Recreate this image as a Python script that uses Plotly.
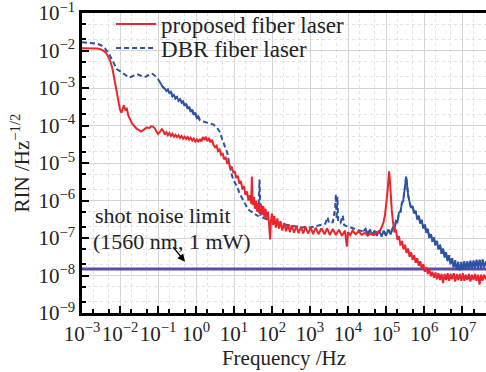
import plotly.graph_objects as go

# ---- data (log10 of frequency in Hz, log10 of RIN in Hz^-1/2) ----
red_points = [(-3.00,-1.94),(-2.80,-1.94),(-2.60,-1.95),(-2.50,-1.97),(-2.40,-2.03),(-2.32,-2.14),(-2.25,-2.30),(-2.20,-2.48),(-2.15,-2.75),(-2.10,-3.10),(-2.05,-3.35),(-2.00,-3.58),(-1.96,-3.66),(-1.93,-3.52),(-1.90,-3.46),(-1.86,-3.58),(-1.82,-3.55),(-1.78,-3.74),(-1.74,-3.84),(-1.68,-3.95),(-1.62,-4.02),(-1.56,-4.09),(-1.50,-4.12),(-1.45,-4.16),(-1.40,-4.13),(-1.35,-4.10),(-1.29,-4.05),(-1.23,-4.07),(-1.18,-4.02),(-1.13,-4.03),(-1.08,-4.08),(-1.04,-4.16),(-1.00,-4.23),(-0.95,-4.17),(-0.90,-4.10),(-0.86,-4.15),(-0.82,-4.24),(-0.78,-4.18),(-0.74,-4.26),(-0.70,-4.20),(-0.66,-4.28),(-0.62,-4.22),(-0.58,-4.30),(-0.54,-4.25),(-0.50,-4.31),(-0.46,-4.26),(-0.42,-4.33),(-0.38,-4.28),(-0.34,-4.35),(-0.30,-4.30),(-0.26,-4.36),(-0.22,-4.31),(-0.18,-4.38),(-0.14,-4.33),(-0.10,-4.40),(-0.06,-4.35),(-0.02,-4.43),(0.02,-4.37),(0.06,-4.44),(0.10,-4.36),(0.14,-4.43),(0.18,-4.31),(0.22,-4.39),(0.26,-4.30),(0.30,-4.42),(0.34,-4.33),(0.38,-4.45),(0.42,-4.38),(0.46,-4.52),(0.50,-4.58),(0.54,-4.54),(0.58,-4.68),(0.62,-4.64),(0.66,-4.78),(0.70,-4.74),(0.74,-4.90),(0.78,-4.86),(0.82,-5.00),(0.86,-4.96),(0.90,-5.14),(0.94,-5.10),(0.98,-5.26),(1.02,-5.22),(1.06,-5.40),(1.10,-5.34),(1.14,-5.55),(1.18,-5.48),(1.22,-5.70),(1.26,-5.62),(1.30,-5.85),(1.34,-5.76),(1.38,-6.00),(1.42,-5.86),(1.45,-6.08),(1.47,-5.36),(1.49,-6.12),(1.52,-5.90),(1.55,-6.22),(1.58,-6.00),(1.61,-6.30),(1.64,-6.08),(1.67,-6.35),(1.71,-6.10),(1.74,-6.38),(1.77,-6.15),(1.80,-6.45),(1.83,-6.22),(1.86,-6.52),(1.89,-6.30),(1.92,-6.60),(1.95,-7.04),(1.97,-6.55),(2.00,-6.35),(2.03,-6.65),(2.06,-6.42),(2.10,-6.72),(2.14,-6.48),(2.18,-6.75),(2.22,-6.55),(2.27,-6.80),(2.32,-6.60),(2.37,-6.82),(2.42,-6.64),(2.47,-6.84),(2.52,-6.66),(2.58,-6.86),(2.64,-6.68),(2.70,-6.87),(2.76,-6.70),(2.82,-6.88),(2.88,-6.70),(2.95,-6.88),(3.02,-6.72),(3.08,-6.90),(3.15,-6.72),(3.22,-6.90),(3.30,-6.74),(3.38,-6.90),(3.45,-6.74),(3.52,-6.92),(3.60,-6.76),(3.68,-6.92),(3.76,-6.78),(3.84,-6.94),(3.92,-6.80),(3.97,-7.23),(4.00,-6.84),(4.06,-6.92),(4.12,-6.80),(4.20,-6.90),(4.28,-6.82),(4.36,-6.92),(4.44,-6.86),(4.52,-6.94),(4.60,-6.88),(4.68,-6.92),(4.76,-6.84),(4.82,-6.86),(4.88,-6.72),(4.93,-6.60),(4.97,-6.40),(5.01,-6.10),(5.04,-5.75),(5.07,-5.35),(5.08,-5.22),(5.10,-5.45),(5.12,-5.85),(5.15,-6.25),(5.18,-6.55),(5.22,-6.85),(5.26,-6.78),(5.30,-7.05),(5.34,-6.95),(5.38,-7.20),(5.42,-7.08),(5.46,-7.30),(5.50,-7.18),(5.54,-7.40),(5.58,-7.28),(5.62,-7.50),(5.66,-7.38),(5.70,-7.58),(5.74,-7.46),(5.78,-7.66),(5.82,-7.54),(5.86,-7.74),(5.90,-7.62),(5.94,-7.82),(5.98,-7.70),(6.02,-7.90),(6.06,-7.78),(6.10,-7.96),(6.14,-7.84),(6.18,-8.02),(6.22,-7.90),(6.26,-8.06),(6.30,-7.92),(6.34,-8.10),(6.38,-7.94),(6.42,-8.12),(6.46,-7.96),(6.50,-8.20),(6.54,-7.96),(6.58,-8.12),(6.62,-7.94),(6.66,-8.14),(6.70,-7.96),(6.74,-8.10),(6.78,-7.94),(6.82,-8.16),(6.86,-7.96),(6.90,-8.12),(6.94,-7.96),(6.98,-8.14),(7.02,-7.94),(7.06,-8.14),(7.10,-7.98),(7.14,-8.12),(7.18,-7.96),(7.22,-8.16),(7.26,-7.98),(7.30,-8.12),(7.34,-7.96),(7.38,-8.14),(7.42,-7.98),(7.46,-8.24),(7.50,-7.98),(7.54,-8.14),(7.58,-7.98),(7.63,-8.10)]

blue_points = [(-3.00,-1.78),(-2.80,-1.79),(-2.60,-1.82),(-2.50,-1.86),(-2.40,-1.94),(-2.30,-2.07),(-2.22,-2.22),(-2.15,-2.38),(-2.08,-2.50),(-2.00,-2.55),(-1.92,-2.60),(-1.84,-2.66),(-1.76,-2.72),(-1.70,-2.70),(-1.62,-2.66),(-1.55,-2.63),(-1.48,-2.66),(-1.40,-2.70),(-1.32,-2.70),(-1.26,-2.66),(-1.20,-2.62),(-1.13,-2.63),(-1.06,-2.70),(-1.00,-2.76),(-0.94,-2.86),(-0.87,-2.98),(-0.82,-3.02),(-0.78,-3.08),(-0.74,-3.04),(-0.70,-3.14),(-0.66,-3.10),(-0.62,-3.22),(-0.58,-3.18),(-0.54,-3.28),(-0.50,-3.24),(-0.46,-3.34),(-0.42,-3.30),(-0.38,-3.40),(-0.34,-3.36),(-0.30,-3.48),(-0.26,-3.42),(-0.22,-3.56),(-0.18,-3.50),(-0.14,-3.64),(-0.10,-3.58),(-0.06,-3.72),(-0.02,-3.66),(0.02,-3.80),(0.06,-3.76),(0.10,-3.86),(0.18,-3.89),(0.30,-3.92),(0.45,-3.97),(0.55,-4.05),(0.63,-4.18),(0.70,-4.40),(0.76,-4.58),(0.82,-4.72),(0.89,-5.10),(0.95,-5.35),(1.02,-5.52),(1.08,-5.62),(1.14,-5.80),(1.19,-5.90),(1.24,-5.97),(1.30,-6.12),(1.35,-6.20),(1.40,-6.26),(1.46,-6.30),(1.52,-6.36),(1.58,-6.40),(1.64,-6.42),(1.67,-5.44),(1.70,-6.44),(1.76,-6.46),(1.82,-6.48),(1.90,-6.52),(2.00,-6.56),(2.10,-6.60),(2.20,-6.62),(2.30,-6.64),(2.40,-6.66),(2.50,-6.68),(2.60,-6.70),(2.70,-6.70),(2.80,-6.72),(2.90,-6.70),(3.00,-6.72),(3.10,-6.70),(3.20,-6.68),(3.30,-6.66),(3.40,-6.62),(3.46,-6.45),(3.50,-6.60),(3.60,-6.58),(3.66,-6.20),(3.68,-5.84),(3.70,-6.50),(3.72,-5.90),(3.74,-6.55),(3.80,-6.60),(3.86,-6.40),(3.90,-6.66),(4.00,-6.70),(4.10,-6.74),(4.20,-6.78),(4.30,-6.80),(4.40,-6.82),(4.46,-6.76),(4.52,-6.90),(4.58,-6.78),(4.64,-6.92),(4.70,-6.80),(4.76,-6.94),(4.82,-6.80),(4.88,-6.96),(4.94,-6.80),(5.00,-6.94),(5.06,-6.78),(5.12,-6.90),(5.18,-6.70),(5.22,-6.78),(5.26,-6.55),(5.30,-6.58),(5.34,-6.32),(5.38,-6.30),(5.42,-6.05),(5.45,-6.02),(5.49,-5.68),(5.52,-5.42),(5.53,-5.36),(5.55,-5.55),(5.58,-5.85),(5.62,-6.05),(5.66,-6.20),(5.70,-6.15),(5.74,-6.35),(5.78,-6.28),(5.82,-6.50),(5.86,-6.40),(5.90,-6.62),(5.94,-6.52),(5.98,-6.74),(6.02,-6.64),(6.06,-6.86),(6.10,-6.76),(6.14,-7.00),(6.18,-6.90),(6.22,-7.10),(6.26,-6.98),(6.30,-7.20),(6.34,-7.08),(6.38,-7.30),(6.42,-7.18),(6.46,-7.42),(6.50,-7.28),(6.54,-7.52),(6.58,-7.38),(6.62,-7.62),(6.66,-7.46),(6.70,-7.70),(6.74,-7.54),(6.78,-7.78),(6.82,-7.60),(6.86,-7.84),(6.90,-7.64),(6.94,-7.86),(6.98,-7.64),(7.02,-7.84),(7.06,-7.62),(7.10,-7.84),(7.14,-7.62),(7.18,-7.82),(7.22,-7.60),(7.26,-7.82),(7.30,-7.60),(7.34,-7.80),(7.38,-7.58),(7.42,-7.80),(7.46,-7.58),(7.50,-7.80),(7.54,-7.58),(7.58,-7.78),(7.63,-7.62)]

# frequency spans (log10 Hz) where the dense DBR noise makes its dashed trace look solid
blue_dense_spans = [(-0.95, 0.12), (4.4, 7.63)]

shot_noise_level = 1.5e-8
x_tick_exponents = [-3, -2, -1, 0, 1, 2, 3, 4, 5, 6, 7]
y_tick_exponents = [-9, -8, -7, -6, -5, -4, -3, -2, -1]
series_names = ["proposed fiber laser", "DBR fiber laser"]

def to_xy(points):
    xs = [10 ** p[0] for p in points]
    ys = [10 ** p[1] for p in points]
    return xs, ys

rx, ry = to_xy(red_points)
bx, by = to_xy(blue_points)

# solid overlay of the dense parts of the DBR trace
sx, sy = [], []
for lo, hi in blue_dense_spans:
    seg = [p for p in blue_points if lo <= p[0] <= hi]
    xs, ys = to_xy(seg)
    sx += xs + [None]
    sy += ys + [None]

FONT = "Liberation Serif"
TXT = "#222222"
RED = "#e8262b"
BLUE = "#2c52a3"

def sci(e):
    return "10<sup>%s</sup>" % ("\u2212%d" % -e if e < 0 else "%d" % e)

fig = go.Figure()
fig.add_trace(go.Scatter(x=[10 ** -3, 10 ** 7.63], y=[shot_noise_level] * 2, mode="lines",
                         line=dict(color="#5a4fa6", width=3), showlegend=False))
fig.add_trace(go.Scatter(x=bx, y=by, mode="lines", name=series_names[1], legend="legend2",
                         line=dict(color=BLUE, width=2, dash="5px,3px")))
fig.add_trace(go.Scatter(x=sx, y=sy, mode="lines", showlegend=False, connectgaps=False,
                         line=dict(color=BLUE, width=1.8)))
fig.add_trace(go.Scatter(x=rx, y=ry, mode="lines", name=series_names[0], legend="legend",
                         line=dict(color=RED, width=2)))

axis_common = dict(
    type="log", showline=True, linecolor="black", linewidth=2.5,
    ticks="inside", ticklen=7, tickwidth=2, tickcolor="black",
    showgrid=True, gridcolor="#d4d4d4", gridwidth=1,
    tickfont=dict(family=FONT, size=21, color=TXT),
    minor=dict(ticks="inside", ticklen=4, tickwidth=1.5, tickcolor="black",
               showgrid=True, gridcolor="#e2e2e2", griddash="dot", gridwidth=1),
    zeroline=False, automargin=False, tickangle=0,
)

fig.update_xaxes(axis_common, range=[-3, 7.63], mirror=True,
                 tickvals=[10 ** e for e in x_tick_exponents],
                 ticktext=[sci(e) for e in x_tick_exponents],
                 title=dict(text="Frequency /Hz", font=dict(family=FONT, size=21, color=TXT), standoff=4))
fig.update_yaxes(axis_common, range=[-9, -1],
                 tickvals=[10 ** e for e in y_tick_exponents],
                 ticktext=[sci(e) for e in y_tick_exponents],
                 title=dict(text="RIN /Hz<sup>\u22121/2</sup>", font=dict(family=FONT, size=21, color=TXT), standoff=4))

fig.add_annotation(x=-3, y=-6.4, xref="x", yref="y", text="shot noise limit", showarrow=False,
                   xanchor="left", xshift=11, font=dict(family=FONT, size=22, color=TXT))
fig.add_annotation(x=-3, y=-7.08, xref="x", yref="y", text="(1560 nm, 1 mW)", showarrow=False,
                   xanchor="left", xshift=9, font=dict(family=FONT, size=22, color=TXT))
fig.add_annotation(x=-0.29, y=-7.63, xref="x", yref="y", text="", showarrow=True,
                   ax=-13, ay=-16, arrowhead=2, arrowsize=1, arrowwidth=1.5, arrowcolor="black")

legend_style = dict(xanchor="left", yanchor="middle", bgcolor="rgba(0,0,0,0)",
                    font=dict(family=FONT, size=23, color=TXT), itemwidth=40,
                    borderwidth=0)
fig.update_layout(
    width=486, height=372,
    margin=dict(l=82, r=0, t=13, b=59),
    paper_bgcolor="white", plot_bgcolor="white",
    legend=dict(legend_style, x=0.072, y=0.963),
    legend2=dict(legend_style, x=0.072, y=0.883),
)

fig.write_html("out.html", config={"displayModeBar": False},
               post_script="document.body.style.margin='0';")
